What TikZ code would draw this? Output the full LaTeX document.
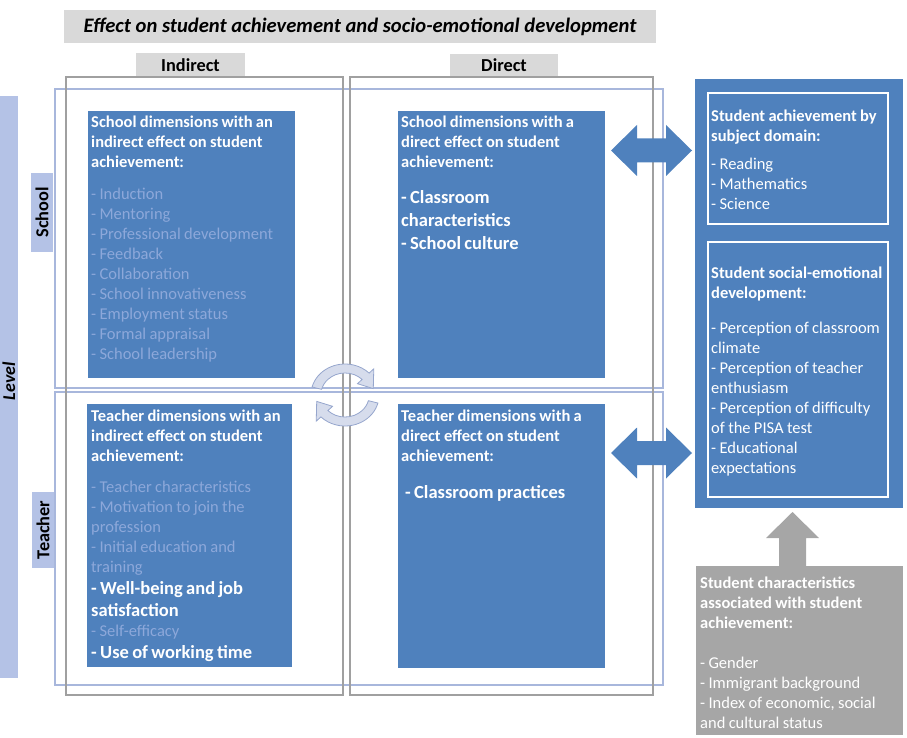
\documentclass[tikz,border=0pt]{standalone}
\usepackage{fontspec}
\setmainfont{Carlito}
\usetikzlibrary{calc}
\definecolor{boxblue}{RGB}{79,129,189}
\definecolor{faded}{RGB}{141,168,218}
\definecolor{lav}{RGB}{180,194,230}
\definecolor{rowline}{RGB}{168,183,220}
\definecolor{colline}{RGB}{160,160,160}
\definecolor{tabgrey}{RGB}{217,217,217}
\definecolor{midgrey}{RGB}{166,166,166}
\definecolor{cycfill}{RGB}{214,220,236}
\definecolor{cycline}{RGB}{150,166,205}
\newcommand{\hfnt}{\bfseries\fontsize{16.5}{20}\selectfont}
\newcommand{\tfnt}{\bfseries\fontsize{18.3}{22}\selectfont}
\newcommand{\ifnt}{\fontsize{16.5}{20}\selectfont}
\newcommand{\bfnt}{\bfseries\fontsize{18.5}{23}\selectfont}
\tikzset{
  rectbox/.style={inner sep=0pt, outer sep=0pt, anchor=north west},
  bluebox/.style={rectbox, fill=boxblue},
  txt/.style={inner sep=0pt, anchor=base west, text width=200pt, align=left, text=white},
  rowbox/.style={draw=rowline, line width=1.6pt},
  colbox/.style={draw=colline, line width=1.6pt},
  cyc/.style={fill=cycfill, draw=cycline, line width=0.8pt},
}
\begin{document}
\begin{tikzpicture}[x=1pt,y=1pt]
\useasboundingbox (0,0) rectangle (907,-738);
% title
\node[rectbox, fill=tabgrey, minimum width=592pt, minimum height=33pt] (title) at (64,-10) {};
\node[anchor=base, inner sep=0pt] (titletext) at (360,-33) {\bfseries\itshape\fontsize{20.6}{24}\selectfont Effect on student achievement and socio-emotional development};
% column tabs
\node[rectbox, fill=tabgrey, minimum width=109pt, minimum height=24pt, font=\tfnt] (tind) at (136,-53) {Indirect};
\node[rectbox, fill=tabgrey, minimum width=108pt, minimum height=23pt, font=\tfnt] (tdir) at (450,-54) {Direct};
% rows and columns
\node[rectbox, rowbox, minimum width=608pt, minimum height=299pt] (rowschool) at (55,-89) {};
\node[rectbox, rowbox, minimum width=608pt, minimum height=293pt] (rowteacher) at (55,-392) {};
\node[rectbox, colbox, minimum width=277pt, minimum height=618pt] (colind) at (66,-77) {};
\node[rectbox, colbox, minimum width=303pt, minimum height=618pt] (coldir) at (350,-77) {};
% level bar
\node[fill=lav, rotate=90, inner sep=0pt, minimum width=582pt, minimum height=18pt] (lvlbar) at (9,-387) {};
\node[rotate=90, inner sep=0pt, font=\bfseries\itshape\fontsize{18}{21}\selectfont] (lvltext) at (9,-381) {Level};
\node[fill=lav, rotate=90, inner sep=0pt, minimum width=79pt, minimum height=22pt, font=\tfnt] (tschool) at (42,-212.5) {School};
\node[fill=lav, rotate=90, inner sep=0pt, minimum width=76pt, minimum height=22pt, font=\tfnt] (tteacher) at (43,-530) {Teacher};
% blue boxes
\node[bluebox, minimum width=207pt, minimum height=267pt] (si) at (88,-111) {};
\node[bluebox, minimum width=207pt, minimum height=267pt] (sd) at (398,-111) {};
\node[bluebox, minimum width=205pt, minimum height=263pt] (ti) at (87,-404) {};
\node[bluebox, minimum width=207pt, minimum height=264pt] (td) at (398,-404) {};
\node[txt] (sit) at (91,-128) {{\hfnt School dimensions with an\\indirect effect on student\\achievement:\par}\vspace{12pt}{\leavevmode\ifnt\color{faded}- Induction\\- Mentoring\\- Professional development\\- Feedback\\- Collaboration\\- School innovativeness\\- Employment status\\- Formal appraisal\\- School leadership\par}};
\node[txt] (sdt) at (401,-128) {{\hfnt School dimensions with a\\direct effect on student\\achievement:\par}\vspace{13pt}{\bfnt - Classroom\\characteristics\\- School culture\par}};
\node[txt] (tit) at (91,-421) {{\hfnt Teacher dimensions with an\\indirect effect on student\\achievement:\par}\vspace{11pt}{\leavevmode\ifnt\color{faded}- Teacher characteristics\\- Motivation to join the\\profession\\- Initial education and\\training\par}{\bfseries\fontsize{18.5}{22}\selectfont - Well-being and job\\satisfaction\par}{\leavevmode\ifnt\color{faded}- Self-efficacy\par}{\bfseries\fontsize{18.5}{22}\selectfont - Use of working time\par}};
\node[txt] (tdt) at (401,-421) {{\hfnt Teacher dimensions with a\\direct effect on student\\achievement:\par}\vspace{14pt}{\bfnt\hspace*{4pt}- Classroom practices\par}};
% right box
\node[bluebox, minimum width=208pt, minimum height=429pt] (rb) at (695,-79) {};
\node[rectbox, draw=white, line width=1.5pt, minimum width=180pt, minimum height=131pt] (rb1) at (708,-93) {};
\node[rectbox, draw=white, line width=1.5pt, minimum width=180pt, minimum height=255pt] (rb2) at (708,-242) {};
\node[txt] (r1t) at (711,-122) {{\hfnt Student achievement by\\subject domain:\par}\vspace{8pt}{\ifnt - Reading\\- Mathematics\\- Science\par}};
\node[txt] (r2t) at (711,-278) {{\hfnt Student social-emotional\\development:\par}\vspace{15pt}{\ifnt - Perception of classroom\\climate\\- Perception of teacher\\enthusiasm\\- Perception of difficulty\\of the PISA test\\- Educational\\expectations\par}};
% grey box
\node[rectbox, fill=midgrey, minimum width=207pt, minimum height=169pt] (gb) at (696,-566) {};
\node[txt] (gbt) at (700,-588) {{\hfnt Student characteristics\\associated with student\\achievement:\par}\vspace{20pt}{\ifnt - Gender\\- Immigrant background\\- Index of economic, social\\and cultural status\par}};
% double arrows
\coordinate (ua) at (651.5,-150.5);
\coordinate (la) at (651.5,-453);
\foreach \c in {ua,la}{
  \fill[boxblue] ($(\c)+(-40.5,0)$) -- ($(\c)+(-14.5,25.5)$) -- ($(\c)+(-14.5,12)$) -- ($(\c)+(14.5,12)$) -- ($(\c)+(14.5,25.5)$) -- ($(\c)+(40.5,0)$) -- ($(\c)+(14.5,-25.5)$) -- ($(\c)+(14.5,-12)$) -- ($(\c)+(-14.5,-12)$) -- ($(\c)+(-14.5,-25.5)$) -- cycle;
}
% grey up arrow
\coordinate (gtip) at (792.5,-512);
\fill[midgrey] (gtip) -- ++(26.5,-26) -- ++(-13,0) -- ++(0,-28) -- ++(-27,0) -- ++(0,28) -- ++(-13,0) -- cycle;
% circular arrows
\begin{scope}[shift={(345,-395)}, xscale=1.1]
\filldraw[cyc] (165:31) arc[start angle=165, end angle=45, radius=31] -- (45:37) -- (14:26.5) -- (45:16) -- (45:22) arc[start angle=45, end angle=165, radius=22] -- cycle;
\filldraw[cyc] (-15:31) arc[start angle=-15, end angle=-135, radius=31] -- (-135:37) -- (-166:26.5) -- (-135:16) -- (-135:22) arc[start angle=-135, end angle=-15, radius=22] -- cycle;
\end{scope}
\end{tikzpicture}
\end{document}
